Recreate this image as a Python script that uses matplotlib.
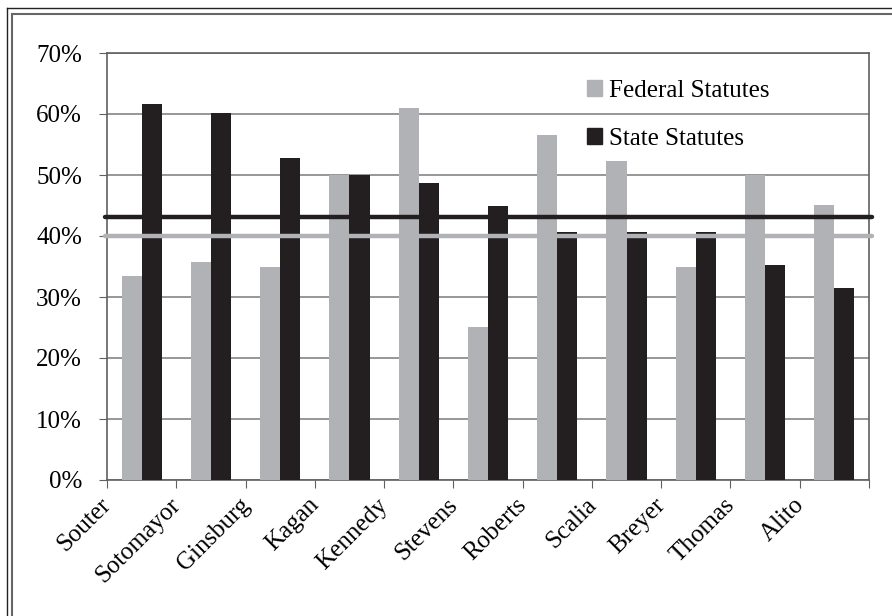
import matplotlib.pyplot as plt
import numpy as np
from matplotlib.patches import Patch
from matplotlib.lines import Line2D
import matplotlib.transforms as mtransforms

justices = ['Souter', 'Sotomayor', 'Ginsburg', 'Kagan', 'Kennedy', 'Stevens',
            'Roberts', 'Scalia', 'Breyer', 'Thomas', 'Alito']
federal = [33.4, 35.7, 34.9, 50.0, 61.0, 25.1, 56.6, 52.3, 34.9, 50.0, 45.1]
state = [61.6, 60.2, 52.8, 50.0, 48.7, 44.9, 40.6, 40.6, 40.6, 35.2, 31.5]
federal_avg = 40.0
state_avg = 43.1

grey = '#b1b2b5'
black = '#231f20'

plt.rcParams['font.family'] = ['Liberation Serif', 'DejaVu Serif']

fig = plt.figure(figsize=(8.92, 6.16), dpi=100)
ax = fig.add_axes([107 / 892, 1 - 480 / 616, (869 - 107) / 892, (480 - 53) / 616])

x = np.arange(len(justices))
w = 0.29
ax.bar(x - w / 2, federal, width=w, color=grey, zorder=3)
ax.bar(x + w / 2, state, width=w, color=black, zorder=3)

# averages
ax.axhline(state_avg, xmin=-0.003, xmax=1.004, color=black, lw=3.2,
           solid_capstyle='round', clip_on=False, zorder=4)
ax.axhline(federal_avg, xmin=-0.003, xmax=1.004, color=grey, lw=3.2,
           solid_capstyle='round', clip_on=False, zorder=4)

ax.set_xlim(-0.5, len(justices) - 0.5)
ax.set_ylim(0, 70)
ax.set_yticks(range(0, 71, 10))
ax.set_yticklabels([f'{v}%' for v in range(0, 71, 10)], fontsize=18)
ax.yaxis.grid(True, color='#858585', lw=1.2, zorder=0)

# ticks between categories, labels at centers
ax.set_xticks(np.arange(-0.5, len(justices), 1))
ax.set_xticklabels([])
ax.set_xticks(x, minor=True)
ax.set_xticklabels(justices, minor=True, rotation=45, ha='right', fontsize=18)
ax.tick_params(axis='x', which='major', direction='out', length=6, color='#606060')
ax.tick_params(axis='x', which='minor', length=0, pad=10)
ax.tick_params(axis='y', direction='out', length=6, pad=12, color='#606060')

offset = mtransforms.ScaledTranslation(-26 / 100, 0, fig.dpi_scale_trans)
for lab in ax.get_xticklabels(minor=True):
    lab.set_transform(lab.get_transform() + offset)

for s in ax.spines.values():
    s.set_color('#606060')
    s.set_linewidth(1.2)

handles = [Patch(color=grey), Patch(color=black)]
ax.legend(handles, ['Federal Statutes', 'State Statutes'], loc='upper left',
          bbox_to_anchor=(0.6, 0.99), frameon=False, fontsize=18,
          handlelength=0.6, handleheight=0.6, handletextpad=0.3,
          labelspacing=1.05)

# double frame around the figure
fig.add_artist(Line2D([7 / 892, 1], [1 - 8 / 616, 1 - 8 / 616], color='#222222', lw=1.0))
fig.add_artist(Line2D([7 / 892, 7 / 892], [0, 1 - 8 / 616], color='#222222', lw=1.0))
fig.add_artist(Line2D([12 / 892, 1], [1 - 14 / 616, 1 - 14 / 616], color='#666666', lw=1.5))
fig.add_artist(Line2D([12 / 892, 12 / 892], [0, 1 - 14 / 616], color='#666666', lw=1.5))

fig.savefig('out.png', dpi=100)
